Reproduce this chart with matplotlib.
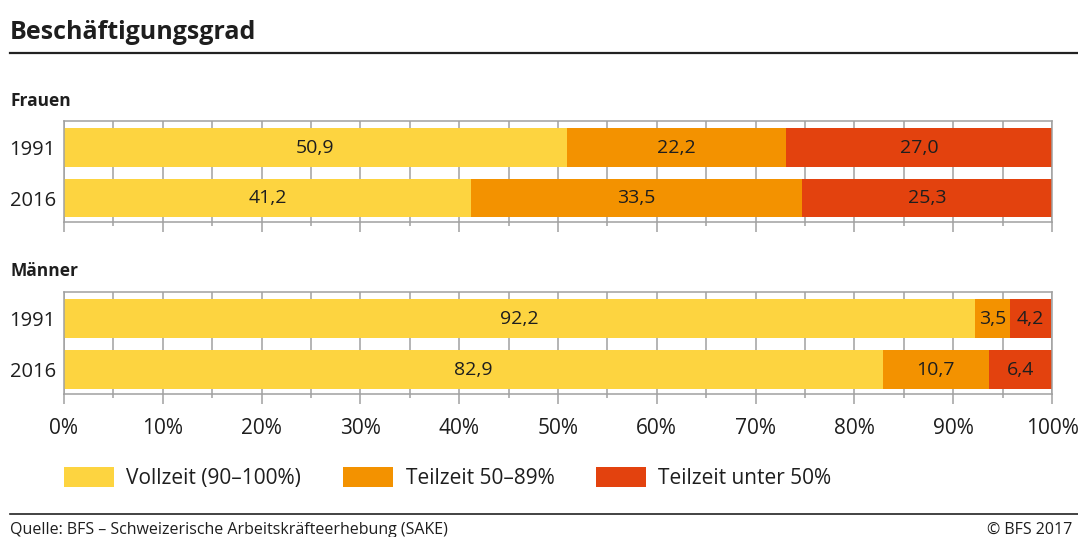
import numpy as np
import matplotlib
matplotlib.use("Agg")
import matplotlib.pyplot as plt
from matplotlib.patches import Patch
from matplotlib.ticker import MultipleLocator

plt.rcParams['font.family'] = ['Open Sans', 'DejaVu Sans']

years = ["1991", "2016"]
categories = ["Vollzeit (90–100%)", "Teilzeit 50–89%", "Teilzeit unter 50%"]
frauen = [[50.9, 22.2, 27.0],
          [41.2, 33.5, 25.3]]
maenner = [[92.2, 3.5, 4.2],
           [82.9, 10.7, 6.4]]
colors = ["#FDD440", "#F39200", "#E3420E"]
grid_col = "#A0A0A0"
text_col = "#1E1E1E"

W, H = 1078, 537
fig = plt.figure(figsize=(W / 100, H / 100), dpi=100)


def px_axes(x0, y0, x1, y1):
    return fig.add_axes([x0 / W, 1 - y1 / H, (x1 - x0) / W, (y1 - y0) / H])


def draw_panel(ax, data, show_xlabels):
    data = np.array(data)
    y = np.arange(len(years))
    left = np.zeros(len(years))
    for k in range(len(categories)):
        ax.barh(y, data[:, k], left=left, height=0.77, color=colors[k],
                edgecolor="none", zorder=2)
        for i in range(len(years)):
            ax.text(left[i] + data[i, k] / 2, y[i], f"{data[i, k]:.1f}".replace(".", ","),
                    ha="center", va="center", fontsize=14, color=text_col, zorder=3)
        left += data[:, k]
    ax.set_xlim(0, 100)
    ax.set_ylim(1.475, -0.525)
    ax.set_yticks(y)
    ax.set_yticklabels(years, fontsize=14.5, color=text_col)
    ax.tick_params(axis="y", length=0, pad=6)
    ax.xaxis.set_major_locator(MultipleLocator(10))
    ax.xaxis.set_minor_locator(MultipleLocator(5))
    ax.tick_params(axis="x", which="major", length=7.5, width=1.1, color=grid_col,
                   pad=10, labelsize=15, labelcolor=text_col)
    ax.tick_params(axis="x", which="minor", length=3, width=1.1, color=grid_col)
    if show_xlabels:
        ax.set_xticklabels([f"{int(v)}%" for v in ax.get_xticks()])
    else:
        ax.set_xticklabels([])
    ax.grid(axis="x", which="both", color=grid_col, linewidth=1.1, zorder=0)
    ax.set_axisbelow(True)
    for s in ax.spines.values():
        s.set_color(grid_col)
        s.set_linewidth(1.1)


ax1 = px_axes(64, 121, 1052, 222)
draw_panel(ax1, frauen, False)
ax2 = px_axes(64, 292, 1052, 394)
draw_panel(ax2, maenner, True)

# titles and headers
fig.text(10 / W, 1 - 39 / H, "Beschäftigungsgrad", fontsize=18, fontweight="bold",
         color=text_col, ha="left", va="baseline")
fig.add_artist(plt.Line2D([10 / W, 1], [1 - 53 / H] * 2, color="#222222", linewidth=1.6))
fig.text(10 / W, 1 - 106 / H, "Frauen", fontsize=12.5, fontweight="bold",
         color=text_col, ha="left", va="baseline")
fig.text(10 / W, 1 - 276 / H, "Männer", fontsize=12.5, fontweight="bold",
         color=text_col, ha="left", va="baseline")

handles = [Patch(facecolor=c, edgecolor="none") for c in colors]
fig.legend(handles, categories, loc="center left", bbox_to_anchor=(64 / W, 1 - 478 / H),
           ncol=3, frameon=False, fontsize=15, handlelength=2.4, handleheight=1.15,
           handletextpad=0.6, columnspacing=2.0, labelcolor=text_col,
           borderpad=0, borderaxespad=0)

fig.add_artist(plt.Line2D([10 / W, 1], [1 - 514 / H] * 2, color="#222222", linewidth=1.2))
fig.text(10 / W, 1 - 530 / H, "Quelle: BFS – Schweizerische Arbeitskräfteerhebung (SAKE)",
         fontsize=11.5, color=text_col, ha="left", va="center")
fig.text(1072 / W, 1 - 530 / H, "© BFS 2017", fontsize=11.5, color=text_col,
         ha="right", va="center")

fig.savefig("out.png", dpi=100)
